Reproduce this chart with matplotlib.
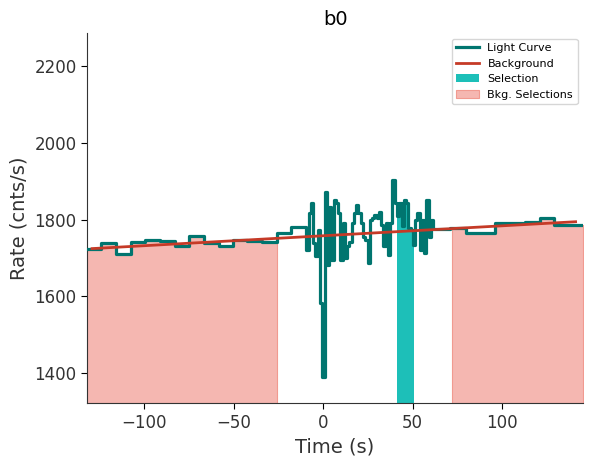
import matplotlib
matplotlib.use("Agg")
import matplotlib.pyplot as plt
import numpy as np

# wide (8.2 s) bins, pre-burst
left_edges = [-132.4, -124.2, -115.6, -107.4, -99.3, -91.1, -82.9, -74.7, -66.5,
              -58.3, -50.5, -42.3, -34.1, -25.9, -17.7, -9.3]
left_rates = [1724, 1738, 1711, 1743, 1748, 1744, 1730, 1758, 1739,
              1731, 1747, 1744, 1741, 1764, 1781]

# fine bins around the burst
fine_start, fine_stop = -9.3, 61.5
fine_rates = [1722, 1818, 1844, 1740, 1704, 1774, 1584, 1391, 1873, 1683,
              1834, 1696, 1852, 1844, 1818, 1696, 1792, 1700, 1730, 1743,
              1792, 1818, 1839, 1818, 1792, 1756, 1748, 1688, 1800, 1805,
              1813, 1805, 1820, 1787, 1730, 1792, 1709, 1792, 1904, 1844,
              1810, 1844, 1783, 1852, 1844, 1778, 1774, 1735, 1800, 1818,
              1722, 1800, 1714, 1852, 1756, 1800]

# wide bins, post-burst
right_edges = [61.5, 71.0, 80.0, 96.0, 105.0, 112.5, 121.0, 129.0, 146.0]
right_rates = [1776, 1778, 1764, 1792, 1790, 1794, 1805, 1787]

bkg_times = [-129.0, 141.0]
bkg_rates = [1724.5, 1794.5]

src_range = (41.2, 50.7)
bkg_ranges = [(-131.8, -25.9), (72.0, 145.2)]

LC_COLOR = "#00756f"
BKG_COLOR = "#c53a27"
SRC_COLOR = "#1dbfb8"
BKGSEL_COLOR = "#f5b7b1"

fine_edges = np.linspace(fine_start, fine_stop, len(fine_rates) + 1)
edges = np.concatenate([left_edges, fine_edges[1:], right_edges[1:]])
rates = np.array(left_rates + fine_rates + right_rates, dtype=float)


def step_segment(lo, hi):
    inner = edges[(edges > lo) & (edges < hi)]
    x = np.concatenate([[lo], inner, [hi]])
    idx = np.clip(np.searchsorted(edges, x, side="right") - 1, 0, len(rates) - 1)
    return x, rates[idx]


fig = plt.figure(figsize=(5.92, 4.65), dpi=100)
ax = fig.add_axes([0.147, 0.133, 0.838, 0.796])
ymin, ymax = 1322, 2286

for i, (lo, hi) in enumerate(bkg_ranges):
    x, y = step_segment(lo, hi)
    ax.fill_between(x, y, ymin, step="post", color=BKGSEL_COLOR, alpha=1.0,
                    edgecolor="#f19a90", linewidth=0.8, zorder=1,
                    label="Bkg. Selections" if i == 0 else None)

x, y = step_segment(*src_range)
ax.fill_between(x, y, ymin, step="post", color=SRC_COLOR, linewidth=0,
                zorder=2, label="Selection")

ax.step(edges, np.append(rates, rates[-1]), where="post", color=LC_COLOR,
        lw=2.3, zorder=3, label="Light Curve")
ax.plot(bkg_times, bkg_rates, color=BKG_COLOR, lw=2, zorder=4, label="Background")

ax.set_xlim(-131.8, 145.2)
ax.set_ylim(ymin, ymax)
ax.set_xticks([-100, -50, 0, 50, 100])
ax.set_yticks([1400, 1600, 1800, 2000, 2200])
ax.set_xlabel("Time (s)", fontsize=14, color="#333333")
ax.set_ylabel("Rate (cnts/s)", fontsize=14, color="#333333")
ax.set_title("b0", fontsize=14)
ax.tick_params(labelsize=12, labelcolor="#333333", direction="out", length=4)
for side in ("top", "right"):
    ax.spines[side].set_visible(False)
for side in ("left", "bottom"):
    ax.spines[side].set_color("#333333")

h, l = ax.get_legend_handles_labels()
order = [l.index(n) for n in ("Light Curve", "Background", "Selection", "Bkg. Selections")]
ax.legend([h[i] for i in order], [l[i] for i in order], loc="upper right",
          fontsize=8, frameon=True, edgecolor="#cccccc")

fig.savefig("out.png", dpi=100)
